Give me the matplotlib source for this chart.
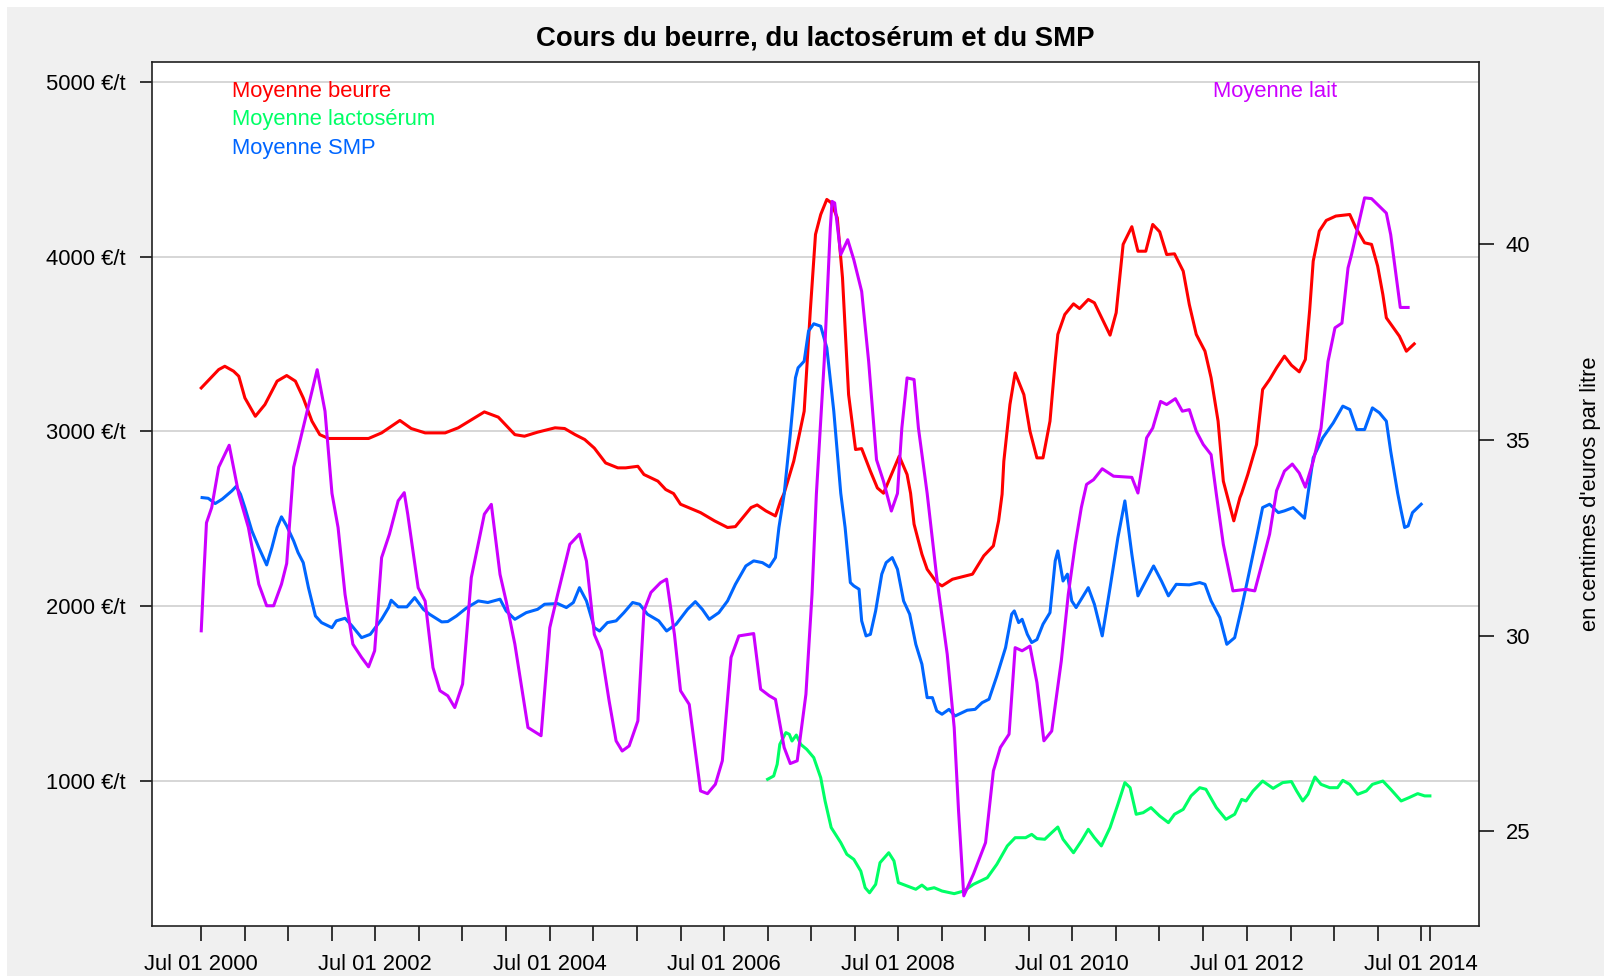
import datetime as dt
import matplotlib
matplotlib.use("Agg")
import matplotlib.pyplot as plt
import matplotlib.dates as mdates
from matplotlib.patches import Rectangle

plt.rcParams["font.family"] = ["Liberation Sans", "DejaVu Sans"]

# colours (R style)
c_beurre = "#FF0000"
c_lacto = "#00FF66"
c_smp = "#0066FF"
c_lait = "#CC00FF"

# ---- data (dates as decimal years) ----
# Moyenne beurre, EUR/t
beurre_t = [2000.50, 2000.70, 2000.77, 2000.87, 2000.93, 2001.00, 2001.12, 2001.23, 2001.37, 2001.48,
            2001.58, 2001.67, 2001.77, 2001.86, 2001.96, 2002.42, 2002.57, 2002.78, 2002.91, 2003.07,
            2003.30, 2003.45, 2003.75, 2003.91, 2004.10, 2004.21, 2004.36, 2004.56, 2004.67, 2004.79,
            2004.90, 2005.01, 2005.14, 2005.28, 2005.37, 2005.51, 2005.58, 2005.74, 2005.83, 2005.92,
            2006.00, 2006.23, 2006.39, 2006.54, 2006.63, 2006.81, 2006.88, 2006.98, 2007.09, 2007.15,
            2007.19, 2007.30, 2007.42, 2007.49, 2007.55, 2007.61, 2007.68, 2007.73, 2007.80, 2007.86,
            2007.93, 2008.01, 2008.08, 2008.18, 2008.26, 2008.33, 2008.51, 2008.60, 2008.64, 2008.68,
            2008.77, 2008.83, 2008.94, 2009.00, 2009.12, 2009.35, 2009.48, 2009.59, 2009.65, 2009.69,
            2009.71, 2009.78, 2009.84, 2009.94, 2010.01, 2010.09, 2010.16, 2010.24, 2010.30, 2010.33,
            2010.41, 2010.51, 2010.58, 2010.68, 2010.75, 2010.93, 2011.00, 2011.08, 2011.18, 2011.25,
            2011.34, 2011.42, 2011.50, 2011.58, 2011.67, 2011.77, 2011.84, 2011.92, 2012.02, 2012.09,
            2012.17, 2012.23, 2012.35, 2012.42, 2012.44, 2012.51, 2012.61, 2012.68, 2012.76, 2012.84,
            2012.93, 2013.01, 2013.10, 2013.17, 2013.22, 2013.26, 2013.33, 2013.41, 2013.52, 2013.68,
            2013.75, 2013.85, 2013.93, 2014.00, 2014.06, 2014.10, 2014.25, 2014.33, 2014.42]
beurre_v = [3249, 3354, 3373, 3345, 3316, 3192, 3087, 3154, 3288, 3320,
            3288, 3192, 3059, 2982, 2960, 2960, 2992, 3063, 3017, 2992,
            2992, 3021, 3112, 3082, 2982, 2973, 2996, 3021, 3017, 2982,
            2954, 2905, 2820, 2792, 2792, 2801, 2754, 2716, 2668, 2645,
            2584, 2536, 2489, 2451, 2456, 2565, 2580, 2546, 2517, 2603,
            2647, 2830, 3116, 3688, 4127, 4241, 4327, 4308, 4222, 3879,
            3211, 2897, 2902, 2773, 2677, 2647, 2859, 2754, 2647, 2470,
            2298, 2212, 2136, 2117, 2155, 2184, 2289, 2346, 2489, 2641,
            2830, 3154, 3335, 3211, 3002, 2849, 2849, 3059, 3402, 3555,
            3669, 3730, 3703, 3755, 3736, 3551, 3679, 4070, 4171, 4031,
            4031, 4184, 4142, 4012, 4016, 3917, 3726, 3555, 3459, 3307,
            3059, 2716, 2489, 2622, 2647, 2754, 2925, 3240, 3297, 3364,
            3431, 3379, 3341, 3412, 3698, 3974, 4146, 4207, 4232, 4241,
            4165, 4079, 4070, 3946, 3783, 3650, 3545, 3459, 3501]

# Moyenne lactoserum, EUR/t
lacto_t = [2007.00, 2007.07, 2007.11, 2007.14, 2007.21, 2007.25, 2007.28, 2007.33, 2007.38, 2007.45,
           2007.53, 2007.61, 2007.66, 2007.73, 2007.84, 2007.91, 2007.99, 2008.07, 2008.12, 2008.17,
           2008.24, 2008.29, 2008.39, 2008.45, 2008.50, 2008.60, 2008.70, 2008.77, 2008.83, 2008.91,
           2009.00, 2009.14, 2009.25, 2009.36, 2009.52, 2009.63, 2009.75, 2009.84, 2009.96, 2010.03,
           2010.09, 2010.18, 2010.26, 2010.33, 2010.39, 2010.51, 2010.60, 2010.68, 2010.75, 2010.83,
           2010.93, 2011.02, 2011.10, 2011.16, 2011.23, 2011.31, 2011.40, 2011.50, 2011.60, 2011.67,
           2011.77, 2011.86, 2011.96, 2012.03, 2012.15, 2012.26, 2012.36, 2012.44, 2012.49, 2012.57,
           2012.68, 2012.80, 2012.91, 2013.01, 2013.07, 2013.14, 2013.20, 2013.28, 2013.35, 2013.45,
           2013.54, 2013.60, 2013.68, 2013.77, 2013.87, 2013.94, 2014.06, 2014.15, 2014.27, 2014.36,
           2014.46, 2014.54, 2014.60]
lacto_v = [1011, 1030, 1097, 1211, 1278, 1268, 1230, 1264, 1211, 1182,
           1135, 1020, 887, 735, 649, 582, 553, 486, 391, 362,
           410, 534, 591, 544, 420, 401, 382, 406, 382, 391,
           372, 357, 372, 410, 448, 525, 630, 677, 677, 696,
           672, 668, 706, 738, 668, 591, 658, 725, 677, 630,
           735, 868, 992, 963, 811, 820, 849, 801, 763, 811,
           839, 916, 963, 954, 849, 782, 811, 896, 887, 944,
           1001, 959, 992, 998, 944, 887, 925, 1024, 982, 963,
           963, 1005, 982, 925, 944, 982, 1001, 954, 887, 906,
           929, 916, 916]

# Moyenne SMP, EUR/t
smp_t = [2000.51, 2000.58, 2000.66, 2000.74, 2000.85, 2000.90, 2000.95, 2001.00, 2001.08, 2001.16,
         2001.25, 2001.31, 2001.37, 2001.42, 2001.48, 2001.56, 2001.61, 2001.67, 2001.73, 2001.81,
         2001.88, 2002.00, 2002.05, 2002.15, 2002.23, 2002.34, 2002.44, 2002.57, 2002.65, 2002.68,
         2002.76, 2002.86, 2002.95, 2003.05, 2003.12, 2003.26, 2003.33, 2003.43, 2003.54, 2003.68,
         2003.79, 2003.93, 2004.00, 2004.10, 2004.23, 2004.36, 2004.44, 2004.59, 2004.69, 2004.77,
         2004.84, 2004.92, 2005.01, 2005.07, 2005.16, 2005.26, 2005.35, 2005.45, 2005.53, 2005.62,
         2005.75, 2005.84, 2005.95, 2006.08, 2006.17, 2006.25, 2006.33, 2006.44, 2006.54, 2006.63,
         2006.75, 2006.84, 2006.94, 2007.02, 2007.09, 2007.13, 2007.19, 2007.26, 2007.32, 2007.35,
         2007.42, 2007.47, 2007.53, 2007.61, 2007.68, 2007.76, 2007.84, 2007.89, 2007.95, 2007.99,
         2008.05, 2008.08, 2008.13, 2008.18, 2008.24, 2008.31, 2008.36, 2008.43, 2008.49, 2008.56,
         2008.63, 2008.70, 2008.77, 2008.83, 2008.89, 2008.94, 2009.00, 2009.08, 2009.15, 2009.29,
         2009.38, 2009.46, 2009.54, 2009.63, 2009.73, 2009.80, 2009.83, 2009.88, 2009.92, 2009.98,
         2010.03, 2010.09, 2010.16, 2010.24, 2010.30, 2010.33, 2010.39, 2010.44, 2010.49, 2010.54,
         2010.68, 2010.75, 2010.84, 2010.93, 2011.02, 2011.10, 2011.18, 2011.25, 2011.35, 2011.43,
         2011.52, 2011.60, 2011.69, 2011.84, 2011.96, 2012.02, 2012.09, 2012.19, 2012.27, 2012.36,
         2012.44, 2012.53, 2012.61, 2012.68, 2012.76, 2012.86, 2012.93, 2013.03, 2013.16, 2013.20,
         2013.26, 2013.37, 2013.49, 2013.60, 2013.68, 2013.76, 2013.85, 2013.94, 2014.02, 2014.10,
         2014.15, 2014.23, 2014.27, 2014.31, 2014.35, 2014.40, 2014.50]
smp_v = [2622, 2618, 2588, 2613, 2660, 2686, 2641, 2565, 2432, 2336,
         2237, 2336, 2451, 2512, 2460, 2374, 2308, 2250, 2107, 1945,
         1907, 1878, 1917, 1932, 1888, 1821, 1840, 1926, 1993, 2035,
         1997, 1997, 2050, 1983, 1955, 1911, 1913, 1945, 1989, 2031,
         2022, 2041, 1974, 1926, 1964, 1983, 2012, 2016, 1993, 2022,
         2107, 2031, 1878, 1859, 1907, 1917, 1964, 2022, 2012, 1955,
         1917, 1859, 1898, 1983, 2027, 1983, 1926, 1964, 2031, 2126,
         2231, 2260, 2250, 2226, 2279, 2451, 2641, 2983, 3307, 3364,
         3402, 3574, 3616, 3602, 3478, 3116, 2647, 2451, 2136, 2117,
         2098, 1917, 1831, 1840, 1974, 2184, 2250, 2279, 2212, 2031,
         1955, 1783, 1669, 1478, 1478, 1402, 1383, 1411, 1373, 1406,
         1411, 1449, 1469, 1602, 1764, 1955, 1974, 1907, 1926, 1840,
         1793, 1810, 1898, 1964, 2260, 2317, 2145, 2184, 2031, 1993,
         2107, 2012, 1831, 2107, 2393, 2603, 2298, 2060, 2155, 2231,
         2145, 2060, 2126, 2123, 2136, 2126, 2031, 1936, 1783, 1821,
         1993, 2203, 2393, 2565, 2584, 2536, 2546, 2565, 2504, 2641,
         2849, 2964, 3049, 3145, 3126, 3011, 3011, 3135, 3107, 3059,
         2887, 2647, 2546, 2451, 2460, 2536, 2584]

# Moyenne lait, centimes d'euros par litre (right axis)
lait_t = [2000.50, 2000.53, 2000.56, 2000.62, 2000.70, 2000.82, 2000.93, 2001.04, 2001.16, 2001.25,
          2001.33, 2001.42, 2001.48, 2001.56, 2001.83, 2001.92, 2002.00, 2002.07, 2002.15, 2002.24,
          2002.34, 2002.42, 2002.49, 2002.57, 2002.66, 2002.76, 2002.83, 2002.87, 2002.99, 2003.07,
          2003.16, 2003.24, 2003.33, 2003.41, 2003.50, 2003.60, 2003.75, 2003.83, 2003.93, 2004.00,
          2004.10, 2004.25, 2004.40, 2004.50, 2004.59, 2004.73, 2004.84, 2004.92, 2005.01, 2005.09,
          2005.18, 2005.26, 2005.33, 2005.41, 2005.51, 2005.58, 2005.66, 2005.77, 2005.84, 2005.93,
          2006.00, 2006.10, 2006.23, 2006.31, 2006.40, 2006.48, 2006.58, 2006.67, 2006.84, 2006.92,
          2007.02, 2007.09, 2007.19, 2007.26, 2007.34, 2007.44, 2007.51, 2007.56, 2007.65, 2007.72,
          2007.74, 2007.77, 2007.84, 2007.92, 2007.99, 2008.08, 2008.16, 2008.25, 2008.33, 2008.42,
          2008.49, 2008.54, 2008.60, 2008.68, 2008.73, 2008.83, 2008.94, 2009.06, 2009.14, 2009.19,
          2009.25, 2009.36, 2009.50, 2009.59, 2009.67, 2009.77, 2009.84, 2009.92, 2010.01, 2010.09,
          2010.17, 2010.26, 2010.37, 2010.45, 2010.53, 2010.60, 2010.66, 2010.74, 2010.84, 2010.97,
          2011.18, 2011.25, 2011.35, 2011.42, 2011.51, 2011.58, 2011.68, 2011.76, 2011.84, 2011.92,
          2012.00, 2012.09, 2012.15, 2012.23, 2012.34, 2012.49, 2012.59, 2012.68, 2012.76, 2012.84,
          2012.93, 2013.02, 2013.10, 2013.17, 2013.26, 2013.35, 2013.43, 2013.51, 2013.59, 2013.66,
          2013.70, 2013.77, 2013.85, 2013.93, 2014.10, 2014.15, 2014.21, 2014.26, 2014.35]
lait_v = [30.12, 31.56, 32.88, 33.27, 34.30, 34.86, 33.61, 32.76, 31.31, 30.76,
          30.76, 31.31, 31.84, 34.30, 36.79, 35.73, 33.63, 32.76, 31.05, 29.78,
          29.44, 29.20, 29.61, 31.99, 32.59, 33.44, 33.65, 33.10, 31.22, 30.88,
          29.18, 28.59, 28.46, 28.16, 28.76, 31.48, 33.10, 33.35, 31.56, 30.88,
          29.78, 27.65, 27.44, 30.20, 31.05, 32.33, 32.59, 31.90, 30.03, 29.61,
          28.33, 27.31, 27.05, 27.18, 27.82, 30.63, 31.10, 31.35, 31.44, 30.03,
          28.59, 28.24, 26.03, 25.96, 26.20, 26.80, 29.44, 29.99, 30.05, 28.63,
          28.46, 28.37, 27.14, 26.73, 26.80, 28.50, 31.05, 33.61, 37.00, 40.41,
          41.09, 41.05, 39.73, 40.11, 39.60, 38.79, 37.00, 34.49, 33.94, 33.18,
          33.63, 35.30, 36.58, 36.54, 35.30, 33.63, 31.48, 29.52, 27.65, 25.52,
          23.35, 23.90, 24.71, 26.54, 27.14, 27.48, 29.69, 29.61, 29.73, 28.80,
          27.31, 27.56, 29.35, 31.05, 32.33, 33.27, 33.86, 33.98, 34.26, 34.07,
          34.04, 33.64, 35.05, 35.30, 35.98, 35.90, 36.05, 35.73, 35.77, 35.22,
          34.88, 34.62, 33.61, 32.33, 31.14, 31.18, 31.14, 31.90, 32.59, 33.70,
          34.20, 34.38, 34.15, 33.79, 34.45, 35.30, 37.00, 37.86, 37.98, 39.39,
          39.73, 40.41, 41.18, 41.16, 40.79, 40.24, 39.22, 38.38, 38.38]

left_ticks = [1000, 2000, 3000, 4000, 5000]
right_ticks = [25, 30, 35, 40]


def to_date(y):
    year = int(y)
    start = dt.datetime(year, 1, 1)
    end = dt.datetime(year + 1, 1, 1)
    return start + (end - start) * (y - year)


def dates(ts):
    return [to_date(t) for t in ts]


fig = plt.figure(figsize=(16.04, 9.76), dpi=100, facecolor="white")
fig.add_artist(Rectangle((7 / 1604, 0), 1, 1 - 7 / 976, transform=fig.transFigure,
                         facecolor="#F0F0F0", edgecolor="none", zorder=-10))

ax = fig.add_axes([152 / 1604, 1 - 926 / 976, 1327 / 1604, 864 / 976])
ax.set_facecolor("white")

lw = 2.2
ax.plot(dates(beurre_t), beurre_v, color=c_beurre, lw=lw, zorder=3)
ax.plot(dates(lacto_t), lacto_v, color=c_lacto, lw=lw, zorder=3)
ax.plot(dates(smp_t), smp_v, color=c_smp, lw=lw, zorder=3)

# x range as R does it: data span + 4% each side
t0 = min(beurre_t[0], lacto_t[0], smp_t[0], lait_t[0])
t1 = max(beurre_t[-1], lacto_t[-1], smp_t[-1], lait_t[-1])
span = t1 - t0
ax.set_xlim(to_date(t0 - 0.04 * span), to_date(t1 + 0.04 * span))
ax.set_ylim(172, 5113)

# ticks every six months, labels every two years, plus the last date
xt, xl = [], []
slack = dt.timedelta(days=5)
for yr in range(2000, 2015):
    for mo in (1, 7):
        d = dt.datetime(yr, mo, 1)
        if d < to_date(t0) - slack or d > to_date(t1):
            continue
        xt.append(d)
        xl.append(d.strftime("%b %d %Y") if (mo == 7 and yr % 2 == 0) else "")
xt.append(to_date(t1))
xl.append("")
ax.set_xticks(xt)
ax.set_xticklabels(xl)

ax.set_yticks(left_ticks)
ax.set_yticklabels([f"{v} €/t" for v in left_ticks])
ax.grid(axis="y", color="#D3D3D3", lw=1.3)
ax.set_axisbelow(True)

fs = 15.8
ax.tick_params(axis="x", direction="out", length=10.5, width=1.1, labelsize=fs, pad=10)
ax.tick_params(axis="y", direction="out", length=9, width=1.1, labelsize=fs, pad=10)
for s in ax.spines.values():
    s.set_linewidth(1.2)
    s.set_color("#202020")

# second axis for milk price
ax2 = ax.twinx()
ax2.plot(dates(lait_t), lait_v, color=c_lait, lw=lw, zorder=4)
ax2.set_ylim(22.58, 44.65)
ax2.set_yticks(right_ticks)
ax2.tick_params(axis="y", direction="out", length=11, width=1.1, labelsize=fs, pad=8)
ax2.set_ylabel("en centimes d'euros par litre", fontsize=fs)
ax2.yaxis.set_label_coords(1.076, 0.5)
for s in ax2.spines.values():
    s.set_visible(False)

fig.text(815.5 / 1604, 1 - 39 / 976, "Cours du beurre, du lactosérum et du SMP",
         ha="center", va="center", fontsize=19.8, fontweight="bold")

# legend-like labels
ax.text(0.0603, 0.9653, "Moyenne beurre", color=c_beurre, fontsize=fs, transform=ax.transAxes, va="center")
ax.text(0.0603, 0.9332, "Moyenne lactosérum", color=c_lacto, fontsize=fs, transform=ax.transAxes, va="center")
ax.text(0.0603, 0.9001, "Moyenne SMP", color=c_smp, fontsize=fs, transform=ax.transAxes, va="center")
ax.text(0.7996, 0.9653, "Moyenne lait", color=c_lait, fontsize=fs, transform=ax.transAxes, va="center")

fig.savefig("out.png", dpi=100)
